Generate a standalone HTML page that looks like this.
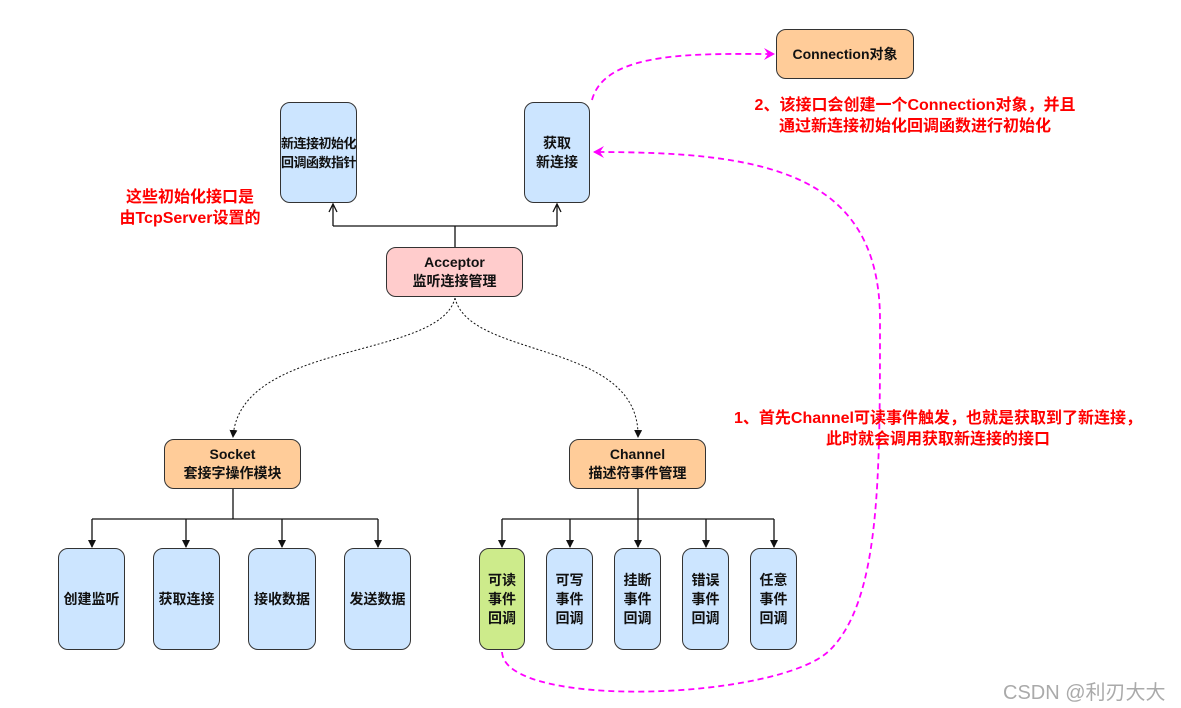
<!DOCTYPE html>
<html><head><meta charset="utf-8"><style>
body{margin:0;width:1181px;height:708px;background:#fff;position:relative;overflow:hidden;font-family:"Liberation Sans","Noto Sans CJK SC",sans-serif;}
.b{position:absolute;box-sizing:border-box;border:1.5px solid #333;border-radius:10px;display:flex;align-items:center;justify-content:center;text-align:center;font-size:14px;font-weight:bold;line-height:19px;color:#111;white-space:nowrap;}
.bl{background:#cce5ff;}
.or{background:#ffcc99;}
.pk{background:#ffcccc;}
.gr{background:#cdeb8b;}
.t{position:absolute;color:#f00;font-weight:bold;font-size:16px;line-height:21px;text-align:center;white-space:nowrap;}
svg{position:absolute;left:0;top:0;}
</style></head><body>
<svg width="1181" height="708">
<defs>
<marker id="d" markerWidth="8" markerHeight="8" refX="7" refY="4" orient="auto" markerUnits="userSpaceOnUse"><path d="M0,0 L8,4 L0,8z" fill="#111"/></marker>
<marker id="m" markerWidth="12" markerHeight="12" refX="10" refY="6" orient="auto" markerUnits="userSpaceOnUse"><path d="M0,0 L11,6 L0,12 L4,6z" fill="#f0f"/></marker>
</defs>
<g stroke="#111" stroke-width="1.3" fill="none">
<path d="M455,247 V226 M333,226 H557 M333,226 V205 M557,226 V205"/>
<path d="M329,212 L333,204 L337,212 M553,212 L557,204 L561,212"/>
<path d="M233,489 V519 M92,519 H378"/>
<path d="M638,489 V519 M502,519 H774"/>
</g>
<g stroke="#111" stroke-width="1.3" fill="none">
<path d="M92,519 V547" marker-end="url(#d)" />
<path d="M186,519 V547" marker-end="url(#d)"/>
<path d="M282,519 V547" marker-end="url(#d)"/>
<path d="M378,519 V547" marker-end="url(#d)"/>
<path d="M502,519 V547" marker-end="url(#d)"/>
<path d="M570,519 V547" marker-end="url(#d)"/>
<path d="M638,519 V547" marker-end="url(#d)"/>
<path d="M706,519 V547" marker-end="url(#d)"/>
<path d="M774,519 V547" marker-end="url(#d)"/>
</g>
<g stroke="#111" stroke-width="1" fill="none" stroke-dasharray="2,2">
<path d="M455,298 C440,360 240,340 233,437" marker-end="url(#d)"/>
<path d="M455,298 C470,360 640,340 638,437" marker-end="url(#d)"/>
</g>
<g stroke="#f0f" stroke-width="1.8" fill="none" stroke-dasharray="6,4">
<path d="M592,100 C605,50 700,54 774,54" marker-end="url(#m)"/>
<path d="M502,652 C505,710 780,700 830,650 C880,600 880,480 880,320 C880,170 760,152 594,152" marker-end="url(#m)"/>
</g>
</svg>
<div class="b or" style="left:776px;top:29px;width:138px;height:50px;">Connection对象</div>
<div class="b bl" style="left:280px;top:102px;width:77px;height:101px;font-size:13px;letter-spacing:-0.5px;">新连接初始化<br>回调函数指针</div>
<div class="b bl" style="left:524px;top:102px;width:66px;height:101px;">获取<br>新连接</div>
<div class="b pk" style="left:386px;top:247px;width:137px;height:50px;">Acceptor<br>监听连接管理</div>
<div class="b or" style="left:164px;top:439px;width:137px;height:50px;">Socket<br>套接字操作模块</div>
<div class="b or" style="left:569px;top:439px;width:137px;height:50px;">Channel<br>描述符事件管理</div>
<div class="b bl" style="left:58px;top:548px;width:67px;height:102px;">创建监听</div>
<div class="b bl" style="left:153px;top:548px;width:67px;height:102px;">获取连接</div>
<div class="b bl" style="left:248px;top:548px;width:68px;height:102px;">接收数据</div>
<div class="b bl" style="left:344px;top:548px;width:67px;height:102px;">发送数据</div>
<div class="b gr" style="left:479px;top:548px;width:46px;height:102px;">可读<br>事件<br>回调</div>
<div class="b bl" style="left:546px;top:548px;width:47px;height:102px;">可写<br>事件<br>回调</div>
<div class="b bl" style="left:614px;top:548px;width:47px;height:102px;">挂断<br>事件<br>回调</div>
<div class="b bl" style="left:682px;top:548px;width:47px;height:102px;">错误<br>事件<br>回调</div>
<div class="b bl" style="left:750px;top:548px;width:47px;height:102px;">任意<br>事件<br>回调</div>
<div class="t" style="left:90px;top:187px;width:200px;">这些初始化接口是<br>由TcpServer设置的</div>
<div class="t" style="left:740px;top:95px;width:350px;">2、该接口会创建一个Connection对象，并且<br>通过新连接初始化回调函数进行初始化</div>
<div class="t" style="left:715px;top:408px;width:446px;">1、首先Channel可读事件触发，也就是获取到了新连接，<br>此时就会调用获取新连接的接口</div>
<div style="position:absolute;left:1003px;top:676px;font-size:20px;color:#aaa;white-space:nowrap;">CSDN @利刃大大</div>
</body></html>
